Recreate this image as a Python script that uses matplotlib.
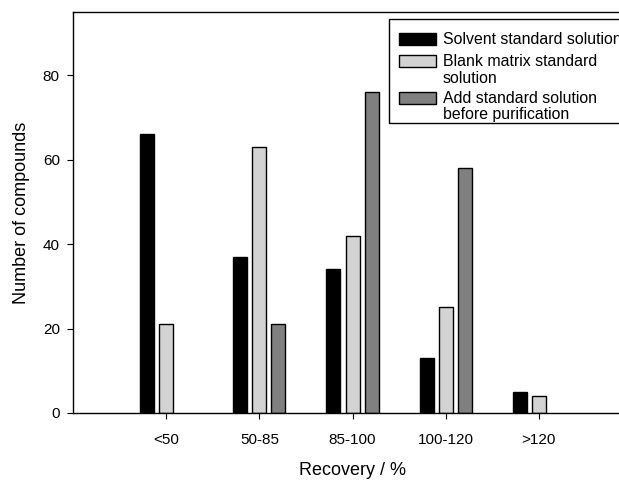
import numpy as np
import matplotlib
matplotlib.use("Agg")
import matplotlib.pyplot as plt
from matplotlib.patches import Rectangle

plt.rcParams["font.family"] = ["Liberation Sans", "DejaVu Sans"]

categories = ["<50", "50-85", "85-100", "100-120", ">120"]
solvent = [66, 37, 34, 13, 5]
blank_matrix = [21, 63, 42, 25, 4]
add_before = [0, 21, 76, 58, 0]

colors = ["black", "#d3d3d3", "#808080"]
legend_lines = [
    ["Solvent standard solution"],
    ["Blank matrix standard", "solution"],
    ["Add standard solution", "before purification"],
]

W, H = 619, 480
fig = plt.figure(figsize=(W / 100, H / 100), dpi=100)
ax = fig.add_axes([73 / W, 1 - 413 / H, (W - 73) / W, (413 - 12) / H])

x = np.arange(1, len(categories) + 1)
offsets = [-0.205, 0.0, 0.205]
for vals, color, off in zip([solvent, blank_matrix, add_before], colors, offsets):
    v = np.array(vals)
    keep = v > 0
    ax.bar(x[keep] + off, v[keep], width=0.15, color=color,
           edgecolor="black", linewidth=1.0, zorder=2)

ax.set_xlim(0, 5.86)
ax.set_ylim(0, 95)
ax.set_xticks(x)
ax.set_xticklabels(categories)
ax.set_yticks([0, 20, 40, 60, 80])
ax.tick_params(axis="y", labelsize=11, direction="out", length=4.5, pad=5)
ax.tick_params(axis="x", labelsize=11, direction="out", length=4.5, pad=10)
ax.spines["right"].set_visible(False)
for s in ["left", "bottom", "top"]:
    ax.spines[s].set_linewidth(1.0)

ax.set_ylabel("Number of compounds", fontsize=13)
ax.yaxis.set_label_coords(-0.079, 0.5)
ax.set_xlabel("Recovery / %", fontsize=13, va="baseline")
ax.xaxis.set_label_coords(0.511, -0.155)

# legend drawn by hand (pixel positions from the top-left of the figure)
def px(xp, yp):
    return xp / W, 1 - yp / H

fig.patches.append(Rectangle(px(389, 123), (640 - 389) / W, (123 - 19) / H,
                             transform=fig.transFigure, facecolor="white",
                             edgecolor="black", linewidth=1.0, zorder=5))
baselines = [[44], [66, 83], [103, 119]]
for lines, bls, color in zip(legend_lines, baselines, colors):
    sx, sy = px(399, bls[0] + 0.5)
    fig.patches.append(Rectangle((sx, sy), 37 / W, 11 / H,
                                 transform=fig.transFigure, facecolor=color,
                                 edgecolor="black", linewidth=1.0, zorder=6))
    for line, bl in zip(lines, bls):
        tx, ty = px(443, bl)
        fig.text(tx, ty, line, fontsize=11.4, va="baseline", ha="left", zorder=7)

fig.savefig("out.png", dpi=100)
